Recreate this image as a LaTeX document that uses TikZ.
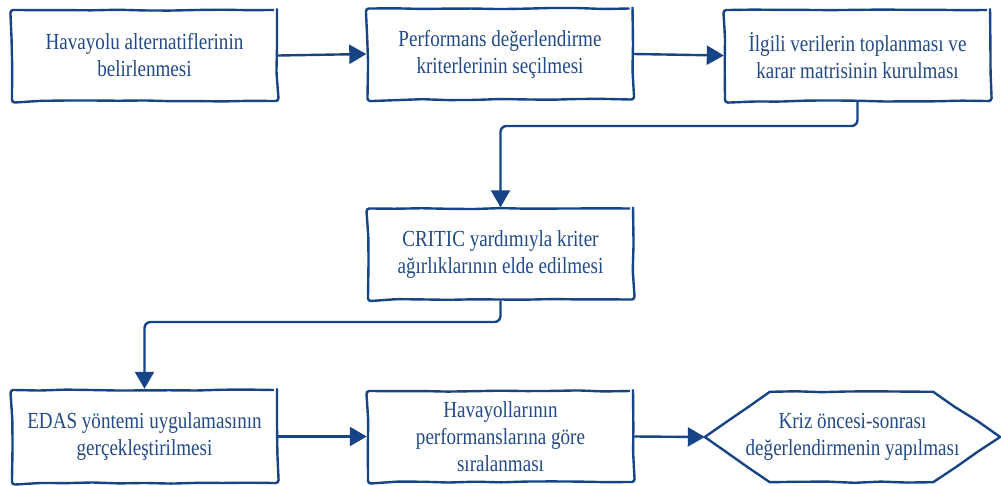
\documentclass[tikz,border=0pt]{standalone}
\usepackage{fontspec}
\setmainfont{Liberation Serif}[FakeStretch=0.83]
\usetikzlibrary{arrows.meta,decorations.pathmorphing}
\definecolor{navy}{RGB}{22,68,132}
\definecolor{navytext}{RGB}{34,74,134}
\pgfmathsetseed{7}
\begin{document}
\begin{tikzpicture}[x=1pt,y=1pt,
  sk/.style={decorate,decoration={random steps,segment length=26pt,amplitude=0.6pt}},
  stepbox/.style={draw=navy,line width=2.4pt,rounded corners=3pt,minimum width=265pt,minimum height=91pt,
    align=center,text=navytext,font=\fontsize{23}{27}\selectfont,inner sep=2pt,sk},
  plain/.style={minimum width=295pt,minimum height=90pt,align=center,text=navytext,
    font=\fontsize{23}{27}\selectfont,inner sep=2pt},
  arr/.style={draw=navy,line width=2.4pt,rounded corners=6pt,
    -{Triangle[length=17pt,width=19pt]}}]
\useasboundingbox (0,0) rectangle (1001,-485);
\node[stepbox] (b1) at (144.5,-55.5) {Havayolu alternatiflerinin\\belirlenmesi};
\node[stepbox] (b2) at (500,-54) {Performans değerlendirme\\kriterlerinin seçilmesi};
\node[stepbox] (b3) at (857.5,-55.5) {İlgili verilerin toplanması ve\\karar matrisinin kurulması};
\node[stepbox] (b4) at (500.5,-254) {CRITIC yardımıyla kriter\\ağırlıklarının elde edilmesi};
\node[stepbox,minimum height=93pt] (b5) at (144.5,-436.5) {EDAS yöntemi uygulamasının\\gerçekleştirilmesi};
\node[stepbox] (b6) at (500.5,-436.5) {Havayollarının\\performanslarına göre\\sıralanması};
\node[plain] (h7) at (852.5,-437) {Kriz öncesi-sonrası\\değerlendirmenin yapılması};
\draw[draw=navy,line width=2.4pt,line join=round,sk]
  (h7.west) -- ([xshift=65pt]h7.north west) -- ([xshift=-67pt]h7.north east)
  -- (h7.east) -- ([xshift=-67pt]h7.south east) -- ([xshift=65pt]h7.south west) -- cycle;
\coordinate (c34) at (857.5,-126);
\coordinate (c45) at (500.5,-322);
\draw[arr] (b1.east) -- (b2.west);
\draw[arr] (b2.east) -- (b3.west);
\draw[arr] (b3.south) -- (c34) -| (b4.north);
\draw[arr] (b4.south) -- (c45) -| (b5.north);
\draw[arr] (b5.east) -- (b6.west);
\draw[arr] (b6.east) -- (h7.west);
\end{tikzpicture}
\end{document}
